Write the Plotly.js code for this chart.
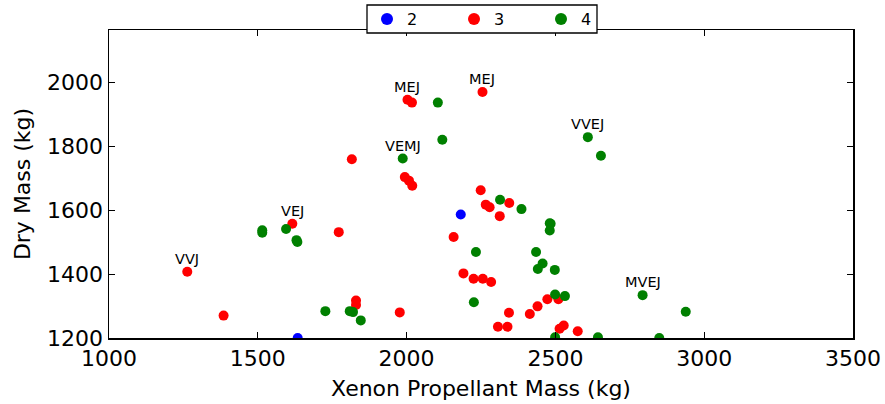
<!DOCTYPE html>
<html>
<head>
<meta charset="utf-8">
<script src="https://cdn.plot.ly/plotly-3.0.1.min.js"></script>
<style>html,body{margin:0;padding:0;background:#fff;}#chart{width:885px;height:404px;}</style>
</head>
<body>
<div id="chart"></div>
<script>
// Series "2"
const x2 = [1634, 2182];
const y2 = [1200, 1586];
// Series "3"
const x3 = [1263, 1385, 1616, 1772, 1816, 1830, 1830, 1977, 2003, 2018, 1994, 2008, 2019, 2255, 2249, 2266, 2279, 2345, 2313, 2158, 2191, 2225, 2256, 2284, 2344, 2414, 2440, 2473, 2510, 2307, 2339, 2514, 2528, 2575];
const y3 = [1407, 1270, 1557, 1531, 1759, 1317, 1303, 1280, 1945, 1936, 1703, 1692, 1676, 1969, 1662, 1617, 1609, 1622, 1581, 1516, 1402, 1385, 1385, 1375, 1279, 1275, 1299, 1321, 1321, 1235, 1235, 1229, 1239, 1221];
// Series "4"
const x4 = [1515, 1515, 1595, 1630, 1633, 1727, 1809, 1820, 1846, 1987, 2105, 2120, 2314, 2386, 2481, 2484, 2481, 2233, 2435, 2457, 2441, 2498, 2226, 2499, 2532, 2499, 2643, 2609, 2653, 2793, 2938, 2849];
const y4 = [1537, 1529, 1541, 1506, 1500, 1284, 1284, 1281, 1255, 1761, 1936, 1820, 1632, 1603, 1559, 1557, 1536, 1469, 1469, 1433, 1416, 1413, 1312, 1336, 1331, 1202, 1202, 1828, 1770, 1334, 1282, 1200];

const seriesNames = ['2', '3', '4'];
const seriesColors = ['#0000ff', '#ff0000', '#008000'];

// labelled points: text, series index, point index
const labelTexts  = ['VVJ', 'VEJ', 'MEJ', 'MEJ', 'VEMJ', 'VVEJ', 'MVEJ'];
const labelSeries = [1, 1, 1, 1, 2, 2, 2];
const labelIndex  = [0, 2, 8, 13, 9, 27, 29];

const xs = [x2, x3, x4];
const ys = [y2, y3, y4];
const FONT = 'DejaVu Sans, Verdana, sans-serif';

const traces = seriesNames.map((n, i) => ({
  type: 'scatter', mode: 'markers', name: n,
  x: xs[i], y: ys[i],
  marker: {color: seriesColors[i], size: 10, line: {width: 0}},
  cliponaxis: true
}));

const annotations = labelTexts.map((t, k) => ({
  x: xs[labelSeries[k]][labelIndex[k]],
  y: ys[labelSeries[k]][labelIndex[k]],
  xref: 'x', yref: 'y', text: t, showarrow: false,
  xanchor: 'center', yanchor: 'bottom', yshift: 3,
  font: {family: FONT, size: 14.5, color: '#000'}
}));

const axisCommon = {
  showgrid: false, zeroline: false,
  showline: true, linecolor: '#000', linewidth: 1.5, mirror: 'ticks',
  ticks: 'inside', ticklen: 6, tickwidth: 1, tickcolor: '#000',
  tickfont: {family: FONT, size: 22, color: '#000'}
};

const layout = {
  width: 885, height: 404,
  margin: {l: 109, r: 32, t: 30, b: 66, autoexpand: false},
  paper_bgcolor: '#fff', plot_bgcolor: '#fff',
  font: {family: FONT, color: '#000'},
  xaxis: Object.assign({}, axisCommon, {
    range: [1000, 3500], tickvals: [1000, 1500, 2000, 2500, 3000, 3500],
    title: {text: 'Xenon Propellant Mass (kg)', font: {family: FONT, size: 22, color: '#000'}, standoff: 10}
  }),
  yaxis: Object.assign({}, axisCommon, {
    range: [1200, 2163], tickvals: [1200, 1400, 1600, 1800, 2000],
    title: {text: 'Dry Mass (kg)', font: {family: FONT, size: 22, color: '#000'}, standoff: 10}
  }),
  showlegend: true,
  legend: {
    orientation: 'h', xref: 'container', yref: 'container',
    x: 367 / 885, y: 1 - 2 / 404, xanchor: 'left', yanchor: 'top',
    bgcolor: 'rgba(0,0,0,0)', borderwidth: 0, itemsizing: 'constant',
    font: {family: FONT, size: 16, color: '#000'},
    entrywidth: 42, entrywidthmode: 'pixels'
  },
  shapes: [{
    type: 'rect', xref: 'paper', yref: 'paper', layer: 'above',
    x0: (367 - 109) / 744, x1: (597 - 109) / 744,
    y0: (338 - 33) / 308, y1: (338 - 5) / 308,
    fillcolor: '#fff', line: {color: '#000', width: 1.3}
  }],
  annotations: annotations
};

Plotly.newPlot('chart', traces, layout, {staticPlot: true, displayModeBar: false});
</script>
</body>
</html>
